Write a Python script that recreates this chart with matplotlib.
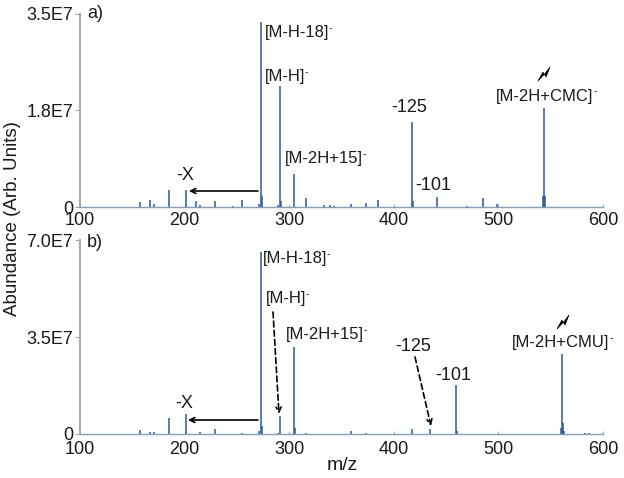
import matplotlib
matplotlib.use("Agg")
import matplotlib.pyplot as plt
from matplotlib.patches import Polygon
from matplotlib.transforms import Affine2D

# --- Data ---
mz_a = [157, 167, 171, 185, 201, 211, 215, 229, 246, 255, 271, 273, 274, 289, 291, 292, 305, 316,
        333, 339, 343, 359, 373, 385, 417, 418, 441, 470, 485, 499, 543, 544, 545]
abund_a = [0.085e7, 0.127e7, 0.054e7, 0.31e7, 0.31e7, 0.108e7, 0.03e7, 0.10e7, 0.01e7, 0.12e7,
           0.06e7, 3.34e7, 0.2e7, 0.03e7, 2.18e7, 0.1e7, 0.6e7, 0.17e7,
           0.03e7, 0.04e7, 0.02e7, 0.05e7, 0.08e7, 0.13e7, 1.54e7, 0.1e7, 0.18e7, 0.02e7, 0.17e7,
           0.06e7, 0.2e7, 1.79e7, 0.2e7]
mz_b = [157, 167, 171, 185, 201, 215, 229, 255, 271, 273, 274, 289, 291, 305, 306, 316,
        359, 373, 417, 435, 459, 460, 560, 561, 562, 563, 583, 587]
abund_b = [0.16e7, 0.06e7, 0.08e7, 0.58e7, 0.74e7, 0.06e7, 0.19e7, 0.03e7, 0.1e7, 6.6e7, 0.3e7,
           0.03e7, 0.66e7, 3.13e7, 0.2e7, 0.05e7,
           0.12e7, 0.03e7, 0.19e7, 0.18e7, 1.77e7, 0.1e7, 0.2e7, 2.89e7, 0.4e7, 0.1e7, 0.04e7, 0.03e7]
xticks = [100, 200, 300, 400, 500, 600]
yticks_a = [0, 1.75e7, 3.5e7]
yticks_b = [0, 3.5e7, 7.0e7]
ylabels_a = ["0", "1.8E7", "3.5E7"]
ylabels_b = ["0", "3.5E7", "7.0E7"]

W, H = 624, 478
BLUE = "#2b5a94"
AXIS_BLUE = "#7f9cc4"
GREY = "#a8a8a8"
TXT = "#1a1a1a"
BIG = 13
SMALL = 12

plt.rcParams["font.family"] = ["Liberation Sans", "DejaVu Sans"]

fig = plt.figure(figsize=(W / 100, H / 100), dpi=100)
# annotations are placed in image pixels, y going down
pix = Affine2D().scale(1 / W, -1 / H).translate(0, 1) + fig.transFigure


def make_axes(top, bottom, mz, abund, yticks, ylabels, xpad):
    ax = fig.add_axes([80 / W, 1 - bottom / H, (603 - 80) / W, (bottom - top) / H])
    ax.vlines(mz, 0, abund, color=BLUE, lw=1.1)
    ax.set_xlim(100, 600)
    ax.set_ylim(0, yticks[-1])
    ax.set_xticks(xticks)
    ax.set_yticks(yticks, ylabels)
    ax.spines["top"].set_visible(False)
    ax.spines["right"].set_visible(False)
    ax.spines["left"].set_color(GREY)
    ax.spines["left"].set_linewidth(1.5)
    ax.spines["bottom"].set_color(AXIS_BLUE)
    ax.spines["bottom"].set_linewidth(1.0)
    ax.tick_params(axis="y", length=3.5, width=0.8, color=GREY, labelsize=BIG, pad=1.5, labelcolor=TXT)
    ax.tick_params(axis="x", direction="in", length=2, width=0.8, color=GREY, labelsize=BIG, pad=xpad, labelcolor=TXT)
    ax.patch.set_alpha(0)
    return ax


ax_a = make_axes(13.5, 207, mz_a, abund_a, yticks_a, ylabels_a, 3.5)
ax_b = make_axes(240.5, 434, mz_b, abund_b, yticks_b, ylabels_b, 5)


def label(x, y, s, ha="left", size=SMALL, sup=False):
    t = fig.text(x, y, s, transform=pix, ha=ha, va="center", fontsize=size, color=TXT)
    if sup:
        fig.canvas.draw()
        bb = t.get_window_extent()
        fig.text((bb.x1 - 0.5) / W, (bb.y1 - 2.5) / H, "-", fontsize=7.5, color=TXT,
                 ha="left", va="center")
    return t


def arrow(start, end, dashed=False):
    ax_b.annotate("", xy=end, xytext=start, xycoords=pix, textcoords=pix,
                  arrowprops=dict(arrowstyle="->", color="black", lw=1.2,
                                  ls=(0, (3.5, 2)) if dashed else "-",
                                  shrinkA=0, shrinkB=0, mutation_scale=9),
                  annotation_clip=False)


def bolt(x, y):
    shape = [(-6, 7), (-1, -2), (0, 1), (6, -7), (2, 3), (0.5, 0), (-6, 7)]
    fig.add_artist(Polygon([(x + a, y + b) for a, b in shape], closed=True,
                           transform=pix, color="black", lw=0.5))


# panel a
label(87, 14, "a)", size=BIG)
label(265, 33, "[M-H-18]", sup=True)
label(265, 77, "[M-H]", sup=True)
label(285, 159, "[M-2H+15]", sup=True)
label(185, 176, "-X", ha="center", size=BIG)
label(409, 107, "-125", ha="center", size=BIG)
label(433, 185, "-101", ha="center", size=BIG)
label(545, 96, "[M-2H+CMC]", ha="center", sup=True)
bolt(544, 74)
arrow((258, 191), (189, 191))

# panel b
label(87, 243, "b)", size=BIG)
label(263, 259, "[M-H-18]", sup=True)
label(266, 299, "[M-H]", sup=True)
label(286, 335, "[M-2H+15]", sup=True)
label(184, 404, "-X", ha="center", size=BIG)
label(413, 347, "-125", ha="center", size=BIG)
label(453, 376, "-101", ha="center", size=BIG)
label(561, 343, "[M-2H+CMU]", ha="center", sup=True)
bolt(563, 322)
arrow((258, 420), (188, 420))
arrow((273, 312), (279, 414), dashed=True)
arrow((415, 357), (431, 426), dashed=True)

fig.text(13, 219, "Abundance (Arb. Units)", transform=pix, rotation=90, ha="center", va="center",
         fontsize=13.5, color=TXT)
fig.text(342, 466, "m/z", transform=pix, ha="center", va="center", fontsize=14, color=TXT)

fig.savefig("out.png", dpi=100)
